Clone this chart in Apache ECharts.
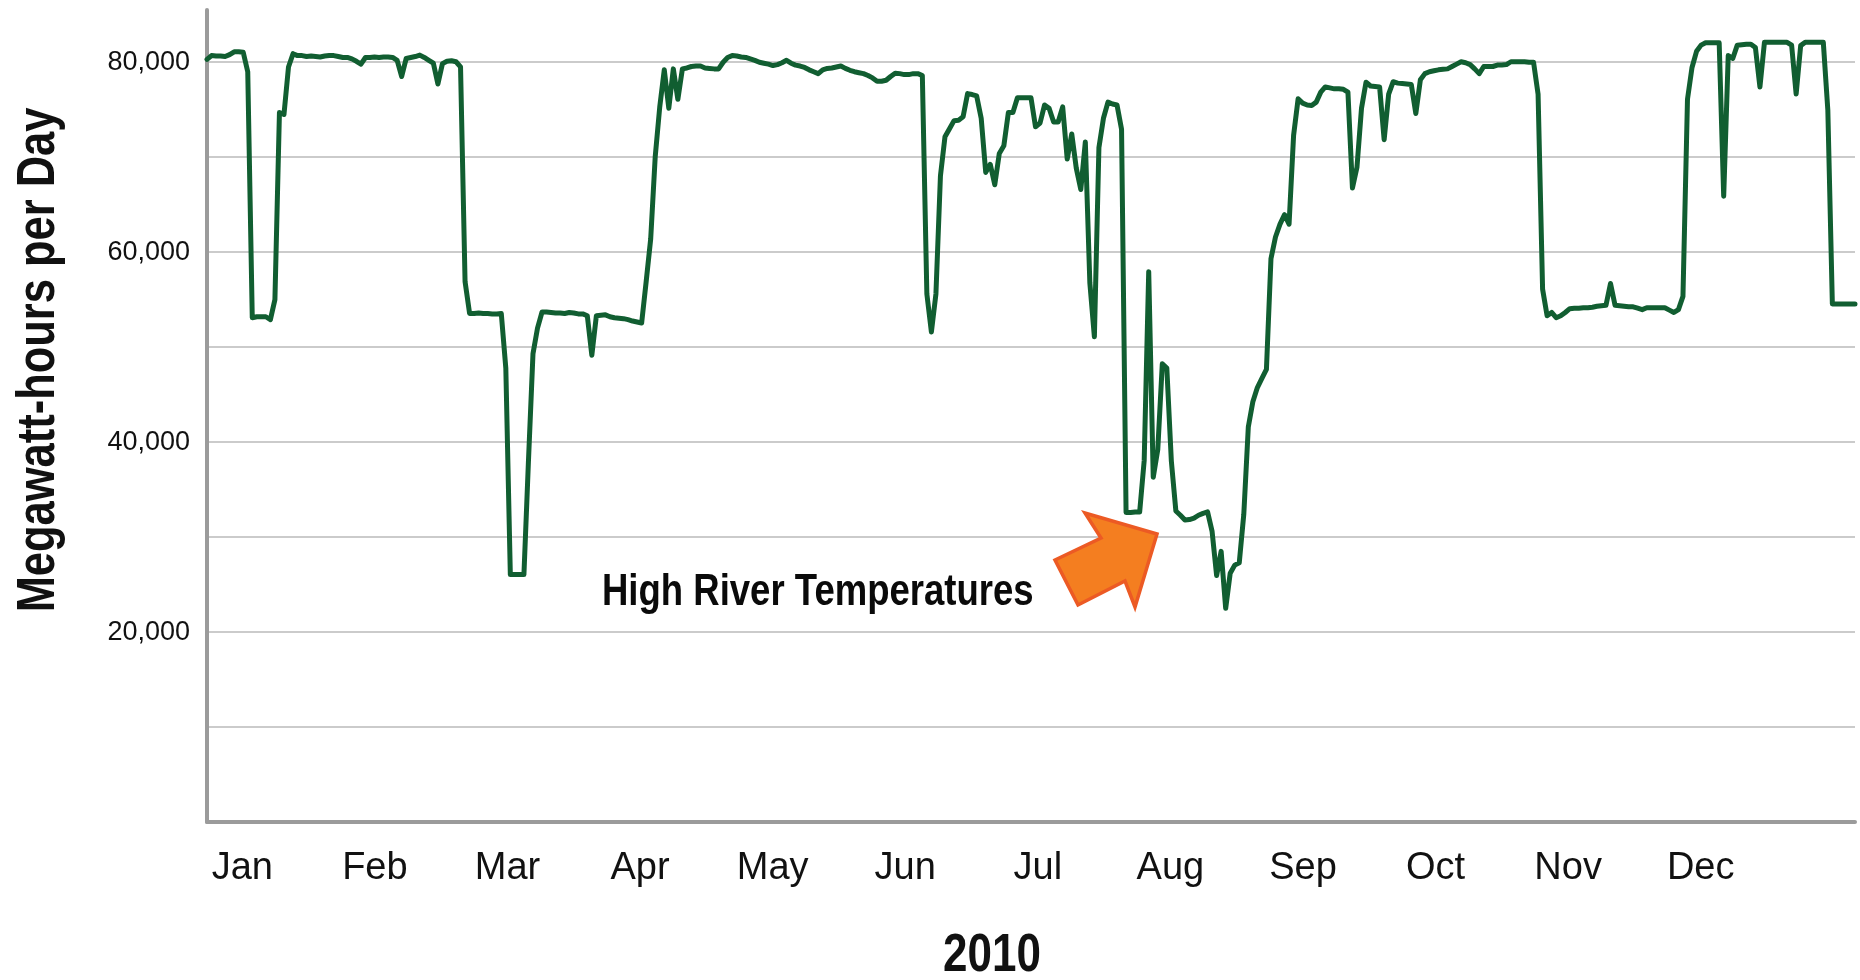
<!DOCTYPE html>
<html>
<head>
<meta charset="utf-8">
<title>Megawatt-hours per Day, 2010</title>
<script src="https://cdn.jsdelivr.net/npm/echarts@6/dist/echarts.min.js"></script>
<style>
  html, body { margin: 0; padding: 0; background: #fff; }
  #chart { width: 1860px; height: 980px; }
</style>
</head>
<body>
<div id="chart"></div>
<script>
// month labels for the bottom axis
const months = ['Jan', 'Feb', 'Mar', 'Apr', 'May', 'Jun', 'Jul', 'Aug', 'Sep', 'Oct', 'Nov', 'Dec'];
// labelled y ticks (gridlines every 10,000)
const yTicks = [20000, 40000, 60000, 80000];

// daily output, MWh
const jan = [80300, 80700, 80650, 80650, 80600, 80800, 81100, 81100, 81050, 79000, 53100, 53200, 53200, 53200, 52900, 55000,
  74700, 74500, 79500, 80900, 80700, 80700, 80600, 80650, 80600, 80550, 80650, 80700, 80700, 80600, 80500];
const feb = [80500, 80350, 80100, 79800, 80500, 80500, 80550, 80500, 80550, 80550, 80500, 80200, 78500, 80400, 80500, 80600,
  80750, 80500, 80200, 79900, 77700, 79850, 80100, 80150, 80050, 79500, 56900, 53550];
const mar = [53550, 53600, 53550, 53550, 53500, 53500, 53550, 47800, 26050, 26050, 26050, 26050, 38000, 49300, 52000, 53700,
  53700, 53650, 53600, 53600, 53550, 53650, 53600, 53500, 53500, 53300, 49150, 53300, 53350, 53400, 53200];
const apr = [53100, 53050, 53000, 52900, 52750, 52650, 52550, 56900, 61400, 70050, 75300, 79200, 75150, 79300, 76100, 79300,
  79400, 79550, 79600, 79600, 79400, 79350, 79300, 79300, 80000, 80500, 80700, 80650, 80550, 80500];
const may = [80350, 80200, 80000, 79900, 79800, 79650, 79750, 79950, 80200, 79900, 79700, 79600, 79450, 79200, 79000, 78800,
  79200, 79350, 79400, 79500, 79600, 79350, 79150, 79000, 78900, 78800, 78600, 78350, 78000, 78000, 78100];
const jun = [78500, 78850, 78800, 78700, 78700, 78800, 78800, 78600, 55600, 51600, 55600, 68050, 72150, 73000, 73850, 73900,
  74250, 76700, 76600, 76450, 74100, 68400, 69250, 67100, 70400, 71200, 74700, 74700, 76250, 76250];
const jul = [76250, 76250, 73200, 73600, 75500, 75150, 73700, 73700, 75300, 69800, 72450, 68850, 66600, 71600, 56750, 51100,
  71000, 74100, 75800, 75600, 75500, 72950, 32600, 32600, 32650, 32650, 38050, 57950, 36300, 39200, 48250];
const aug = [47800, 38000, 32750, 32300, 31800, 31850, 32000, 32300, 32500, 32650, 30600, 25950, 28500, 22500, 26200, 27050,
  27300, 32400, 41600, 44250, 45750, 46700, 47650, 59300, 61600, 62950, 63950, 62950, 72300, 76150, 75700];
const sep = [75500, 75450, 75800, 76850, 77400, 77300, 77200, 77200, 77150, 76850, 66750, 68950, 75150, 77900, 77500, 77450,
  77400, 71850, 76650, 77950, 77800, 77750, 77700, 77650, 74600, 78150, 78800, 79000, 79100, 79200];
const oct = [79250, 79300, 79550, 79800, 80050, 79950, 79750, 79300, 78800, 79550, 79550, 79550, 79700, 79700, 79750, 80050,
  80050, 80050, 80050, 80000, 80000, 76650, 56100, 53300, 53650, 53100, 53300, 53650, 54050, 54100, 54100];
const nov = [54150, 54150, 54200, 54300, 54350, 54400, 56700, 54400, 54350, 54300, 54250, 54250, 54100, 53950, 54150, 54150,
  54150, 54150, 54150, 53900, 53650, 53950, 55350, 76100, 79450, 81150, 81800, 82050, 82050, 82050];
const dec = [82050, 65900, 80700, 80400, 81800, 81850, 81900, 81900, 81550, 77400, 82100, 82100, 82100, 82100, 82100, 82100,
  81800, 76650, 81750, 82100, 82100, 82100, 82100, 82100, 74950, 54550, 54550, 54550, 54550, 54550, 54550];

const values = [].concat(jan, feb, mar, apr, may, jun, jul, aug, sep, oct, nov, dec);

// one category per day of 2010
const days = values.map((v, i) => {
  const d = new Date(Date.UTC(2010, 0, 1 + i));
  return d.toISOString().slice(0, 10);
});

const FONT = '"Liberation Sans", Arial, sans-serif';

const chart = echarts.init(document.getElementById('chart'));

chart.setOption({
  animation: false,
  backgroundColor: '#fff',
  grid: [
    { left: 207, right: 5, top: 10, bottom: 158 },          // data
    { left: 176, width: 1591, top: 10, bottom: 158 },       // month labels only
  ],
  xAxis: [
    {
      type: 'category',
      gridIndex: 0,
      data: days,
      boundaryGap: false,
      axisLine: { lineStyle: { color: '#9b9b9b', width: 4 } },
      axisTick: { show: false },
      axisLabel: { show: false },
      splitLine: { show: false },
    },
    {
      type: 'category',
      gridIndex: 1,
      data: months,
      boundaryGap: true,
      axisLine: { show: false },
      axisTick: { show: false },
      axisLabel: {
        color: '#111',
        fontSize: 38,
        fontFamily: FONT,
        margin: 28,
      },
    },
  ],
  yAxis: [
    {
      type: 'value',
      gridIndex: 0,
      min: 0,
      max: 85500,
      interval: 10000,
      axisLine: { show: true, lineStyle: { color: '#9b9b9b', width: 4 } },
      axisTick: { show: false },
      splitLine: {
        show: true,
        showMinLine: false,
        showMaxLine: false,
        lineStyle: { color: '#bababa', width: 1.5 },
      },
      axisLabel: {
        showMaxLabel: false,
        color: '#111',
        fontSize: 27,
        fontFamily: FONT,
        margin: 17,
        formatter: (v) => (yTicks.indexOf(v) >= 0 ? v.toLocaleString('en-US') : ''),
      },
    },
    { type: 'value', gridIndex: 1, show: false, min: 0, max: 1 },
  ],
  series: [
    {
      type: 'line',
      xAxisIndex: 0,
      yAxisIndex: 0,
      data: values,
      showSymbol: false,
      symbol: 'none',
      lineStyle: { color: '#115e31', width: 5, join: 'round', cap: 'round' },
      z: 5,
    },
  ],
  graphic: [
    {
      // y axis title (condensed by scaling along the text)
      type: 'text',
      x: 39,
      y: 360,
      rotation: Math.PI / 2,
      scaleX: 0.82,
      style: {
        text: 'Megawatt-hours per Day',
        font: 'bold 53px ' + FONT,
        fill: '#111',
        align: 'center',
        verticalAlign: 'middle',
      },
    },
    {
      // x axis title
      type: 'text',
      x: 992,
      y: 956,
      scaleX: 0.83,
      style: {
        text: '2010',
        font: 'bold 53px ' + FONT,
        fill: '#111',
        align: 'center',
        verticalAlign: 'middle',
      },
    },
    {
      // annotation
      type: 'text',
      x: 602,
      y: 593,
      scaleX: 0.83,
      style: {
        text: 'High River Temperatures',
        font: 'bold 44px ' + FONT,
        fill: '#0a0a0a',
        align: 'left',
        verticalAlign: 'middle',
      },
      z: 20,
    },
    {
      // orange arrow pointing at the summer dip
      type: 'polygon',
      shape: {
        points: [[1157, 534], [1085, 513], [1101, 538], [1055, 560], [1078, 605], [1125, 581], [1135, 607]],
      },
      style: { fill: '#f47e20', stroke: '#ec5a24', lineWidth: 3.5, lineJoin: 'miter' },
      z: 20,
    },
  ],
});
</script>
</body>
</html>
